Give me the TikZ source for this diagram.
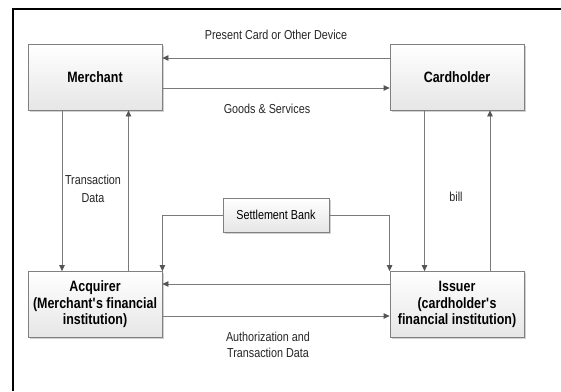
\documentclass[tikz,border=0pt]{standalone}
\usepackage{fontspec}
\setmainfont{Liberation Sans}[FakeStretch=0.83]
\usetikzlibrary{arrows.meta,shadows}
\definecolor{linegray}{HTML}{7A7A7A}
\definecolor{tipgray}{HTML}{555555}
\definecolor{boxedge}{HTML}{808080}
\definecolor{boxfill}{HTML}{E6E6E6}
\definecolor{labelgray}{HTML}{262626}
\begin{document}
\begin{tikzpicture}[x=1pt,y=-1pt,
  box/.style={draw=boxedge, line width=0.8pt, top color=white, bottom color=boxfill,
    drop shadow={shadow xshift=1.5pt, shadow yshift=-1.5pt, fill=black, opacity=0.18},
    inner sep=0pt, align=center, text=black,
    font=\fontsize{15}{16.5}\selectfont\bfseries},
  bigbox/.style={box, minimum width=134pt, minimum height=66pt},
  smallbox/.style={box, minimum width=106pt, minimum height=34pt,
    font=\fontsize{13}{15}\selectfont},
  link/.style={draw=linegray, line width=0.8pt,
    -{Triangle[length=6pt,width=5.5pt,color=tipgray]}},
  lbl/.style={font=\fontsize{13}{15.5}\selectfont, text=labelgray, align=center, inner sep=0pt}]
\useasboundingbox (0,0) rectangle (561,391);
\fill[white] (0,0) rectangle (561,391);

% page frame (top and left rules)
\draw[line width=2.5pt] (561,9) -- (13,9) -- (13,391);

% parties
\node[bigbox] (merch) at (95,77) {Merchant};
\node[bigbox] (card) at (457,77) {Cardholder};
\node[bigbox] (acq) at (95,304.5) {Acquirer\\(Merchant\textquotesingle s financial\\institution)};
\node[bigbox] (iss) at (457,304.5) {Issuer\\(cardholder\textquotesingle s\\financial institution)};
\node[smallbox] (settle) at (276,215) {Settlement Bank};

% merchant <-> cardholder
\draw[link] ([yshift=19pt]card.west) -- ([yshift=19pt]merch.east);
\draw[link] ([yshift=-11pt]merch.east) -- ([yshift=-11pt]card.west);

% merchant <-> acquirer
\draw[link] ([xshift=-33pt]merch.south) -- ([xshift=-33pt]acq.north);
\draw[link] ([xshift=33.5pt]acq.north) -- ([xshift=33.5pt]merch.south);

% cardholder <-> issuer
\draw[link] ([xshift=-32.5pt]card.south) -- ([xshift=-32.5pt]iss.north);
\draw[link] ([xshift=33pt]iss.north) -- ([xshift=33pt]card.south);

% acquirer <-> issuer
\draw[link] ([yshift=20.5pt]iss.west) -- ([yshift=20.5pt]acq.east);
\draw[link] ([yshift=-11.5pt]acq.east) -- ([yshift=-11.5pt]iss.west);

% settlement bank
\draw[link] (settle.west) -| (acq.north east);
\draw[link] (settle.east) -| (iss.north west);

% labels
\node[lbl] (lpresent) at (276,35) {Present Card or Other Device};
\node[lbl] (lgoods) at (267,109) {Goods \& Services};
\node[lbl, font=\fontsize{13}{18}\selectfont] (ltrans) at (93,189) {Transaction\\Data};
\node[lbl] (lbill) at (456,197) {bill};
\node[lbl] (lauth) at (268,345) {Authorization and\\Transaction Data};
\end{tikzpicture}
\end{document}
